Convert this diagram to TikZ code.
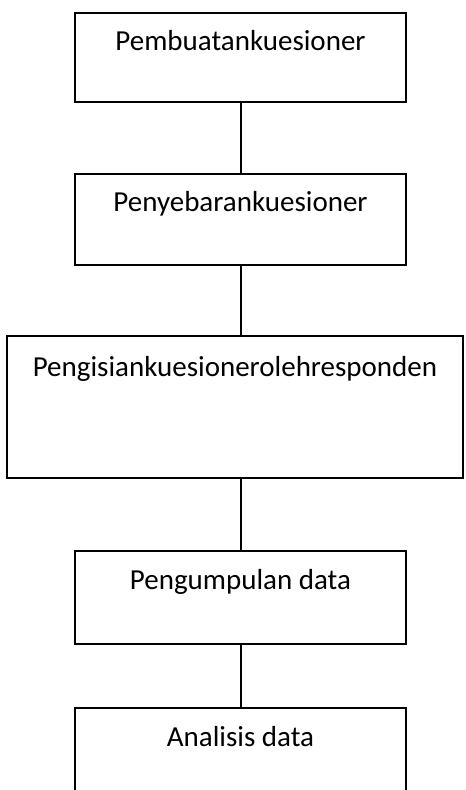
\documentclass[tikz,border=0pt]{standalone}
\usepackage{fontspec}
\setmainfont{Carlito}
\tikzset{
  stagebox/.style={rectangle, draw, line width=1pt, inner sep=0pt, anchor=north,
    minimum width=165.5pt, text height=19pt, font=\fontsize{14.5}{17}\selectfont},
  link/.style={line width=1pt}
}
\begin{document}
\begin{tikzpicture}[x=0.5pt, y=-0.5pt]
    \useasboundingbox (0,0) rectangle (465,790);
    \node[stagebox, text depth=25.5pt] (buat) at (240.5,12) {Pembuatankuesioner};
    \node[stagebox, text depth=26.5pt] (sebar) at (240.5,173) {Penyebarankuesioner};
    \node[stagebox, minimum width=228pt, text height=20pt, text depth=51pt] (isi) at (235,335) {Pengisiankuesionerolehresponden};
    \node[stagebox, text depth=27.5pt] (kumpul) at (240.5,550) {Pengumpulan data};
    \node[stagebox, text depth=30pt] (analisis) at (240.5,707) {Analisis data};

    \foreach \source/\dest in {buat/sebar, sebar/isi, isi/kumpul, kumpul/analisis}
      \draw[link] (\source.south -| buat) -- (\dest.north -| buat);
  \end{tikzpicture}
\end{document}
